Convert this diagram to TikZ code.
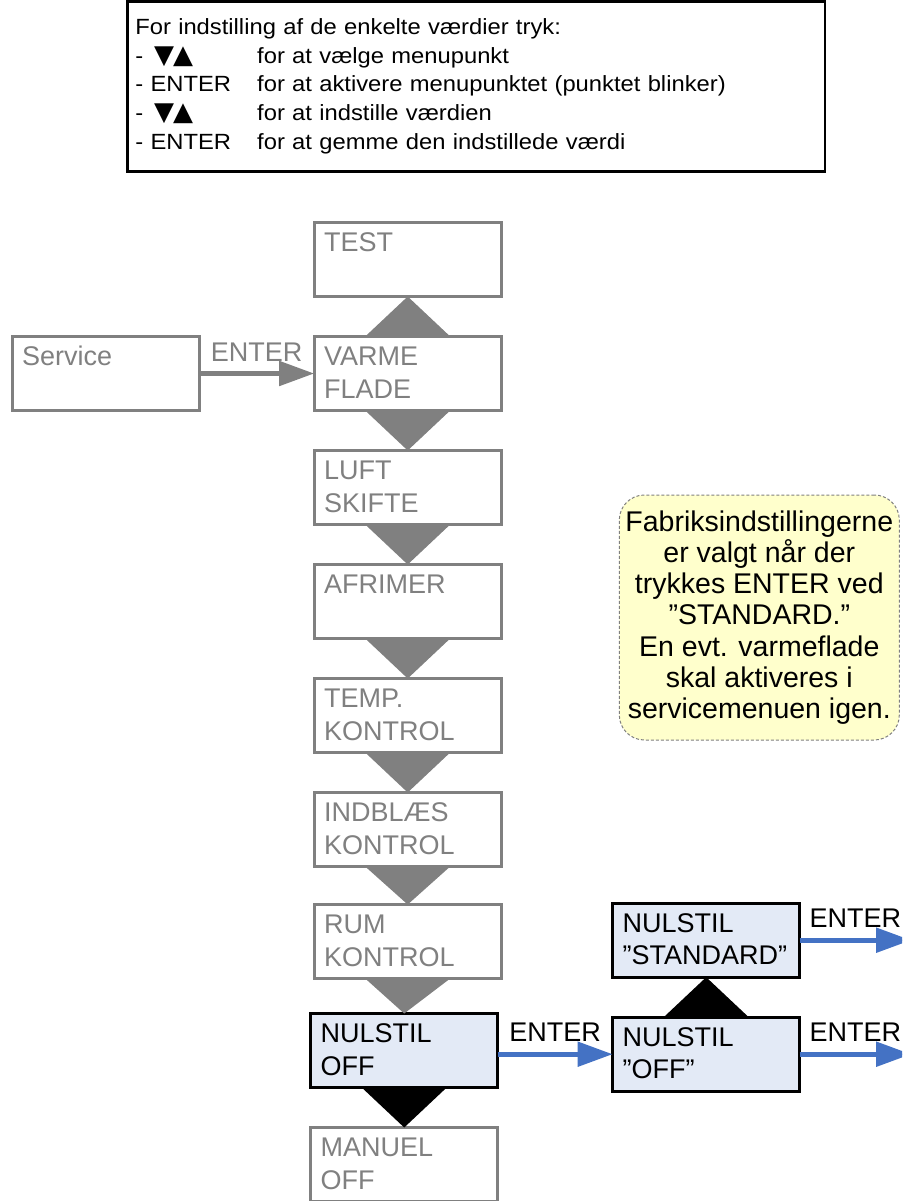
\documentclass[tikz,border=0pt]{standalone}
\usepackage{fontspec}
\setmainfont{Liberation Sans}
\newfontfamily\infofont[FakeStretch=1.08]{Liberation Sans}
\newfontfamily\symfont{DejaVu Sans}
\usetikzlibrary{positioning, arrows.meta}
\definecolor{graa}{RGB}{128,128,128}
\definecolor{blaa}{HTML}{4472C4}
\definecolor{lysblaa}{HTML}{E3EAF6}
\definecolor{gul}{HTML}{FFFFCC}
\newcommand{\mstrut}{\rule[-7pt]{0pt}{31pt}}
\newcommand{\istrut}{\rule[-6pt]{0pt}{22.6pt}}
\newcommand{\pile}{{\symfont\fontsize{26}{19}\selectfont ▼\kern-1pt▲}}
\tikzset{
    %Define standard arrow tip
    >={Triangle[length=35pt,width=24pt]},
    %Define style for menu boxes
    menu/.style={
           rectangle,
           draw=graa, line width=3pt,
           text=graa,
           text width=167pt,
           inner xsep=10pt, inner ysep=0pt,
           minimum height=74pt,
           outer sep=0pt,
           align=left,
           font=\fontsize{27}{32.4}\selectfont},
    menuakt/.style={
           menu,
           draw=black,
           text=black,
           fill=lysblaa},
    % Define style for info box and note
    info/.style={
           rectangle,
           draw=black, line width=2.5pt,
           text width=681.7pt,
           inner xsep=8pt, inner ysep=0pt,
           minimum height=170.4pt,
           outer sep=0pt,
           align=left,
           font=\infofont\fontsize{22}{28.75}\selectfont},
    note/.style={
           rectangle,
           rounded corners=25pt,
           draw=graa, line width=1pt,
           dash pattern=on 3pt off 2pt,
           fill=gul,
           minimum width=280pt,
           minimum height=245pt,
           inner sep=2pt,
           align=center,
           font=\fontsize{28.5}{31.2}\selectfont},
    % Define arrow style
    pil/.style={
           ->,
           line width=5pt,
           draw=graa},
    pilblaa/.style={
           pil,
           draw=blaa},
    lbl/.style={
           above=10pt,
           inner sep=0pt,
           font=\fontsize{27}{32.4}\selectfont},
    tri/.style={fill=graa},
    trisort/.style={fill=black}
}

\begin{document}
\begin{tikzpicture}[x=1pt, y=-1pt]
	\useasboundingbox (0,0) rectangle (902,1201);
	\clip (0,0) rectangle (902,1201);
	%
	% info
	%
	\node[info, anchor=north west] (info) at (127.3,1.3) {%
		\istrut For indstilling af de enkelte værdier tryk:\\
		\istrut\makebox[121.9pt][l]{- \,\pile}for at vælge menupunkt\\
		\istrut\makebox[121.9pt][l]{- ENTER}for at aktivere menupunktet (punktet blinker)\\
		\istrut\makebox[121.9pt][l]{- \,\pile}for at indstille værdien\\
		\istrut\makebox[121.9pt][l]{- ENTER}for at gemme den indstillede værdi};
	%
	% menu
	%
	\node[menu] (test) at (407.7,259.5) {\mstrut TEST\\\mstrut};
	\node[menu, below=40pt of test] (varme) {\mstrut VARME\\\mstrut FLADE};
	\node[menu, below=40pt of varme] (luft) {\mstrut LUFT\\\mstrut SKIFTE};
	\node[menu, below=40pt of luft] (afrimer) {\mstrut AFRIMER\\\mstrut};
	\node[menu, below=40pt of afrimer] (temp) {\mstrut TEMP.\\\mstrut KONTROL};
	\node[menu, below=40pt of temp] (indblaes) {\mstrut INDBLÆS\\\mstrut KONTROL};
	\node[menu, below=38pt of indblaes] (rum) {\mstrut RUM\\\mstrut KONTROL};
	\node[menuakt, below=35pt of rum, xshift=-3.5pt] (nuloff) {\mstrut NULSTIL\\\mstrut OFF};
	\node[menu, below=40pt of nuloff] (manuel) {\mstrut MANUEL\\\mstrut OFF};
	\node[menu, left=115pt of varme] (service) {\mstrut Service\\\mstrut};
	\node[menuakt, right=115pt of nuloff, yshift=-3.7pt] (nuloff2) {\mstrut NULSTIL\\\mstrut ”OFF”};
	\node[menuakt, above=40pt of nuloff2] (standard) {\mstrut NULSTIL\\\mstrut ”STANDARD”};
	\coordinate[right=111.5pt of standard.east] (stdud);
	\coordinate[right=111.5pt of nuloff2.east] (offud);
	%
	% note
	%
	\node[note] (fabrik) at (759.3,617.5) {Fabriksindstillingerne\\er valgt når der\\trykkes ENTER ved\\”STANDARD.”\\En evt. varmeflade\\skal aktiveres i\\servicemenuen igen.};
	%
	% pile
	%
	\fill[tri] ([xshift=-42.5pt]varme.north) -- (test.south) -- ([xshift=42.5pt]varme.north) -- cycle;
	\foreach \a/\b in {varme/luft, luft/afrimer, afrimer/temp, temp/indblaes, indblaes/rum, rum/nuloff}
		\fill[tri] ([xshift=-42.5pt]\a.south) -- (\b.north) -- ([xshift=42.5pt]\a.south) -- cycle;
	\fill[trisort] ([xshift=-42.5pt]nuloff.south) -- (manuel.north) -- ([xshift=42.5pt]nuloff.south) -- cycle;
	\fill[trisort] ([xshift=-42.5pt]nuloff2.north) -- (standard.south) -- ([xshift=42.5pt]nuloff2.north) -- cycle;
	\draw[pil] (service) -- node[lbl, text=graa] {ENTER} (varme);
	\draw[pilblaa] (nuloff.east |- nuloff2.west) -- node[lbl] {ENTER} (nuloff2.west);
	\draw[pilblaa] (standard) -- node[lbl] {ENTER} (stdud);
	\draw[pilblaa] (nuloff2) -- node[lbl] {ENTER} (offud);
\end{tikzpicture}
\end{document}
